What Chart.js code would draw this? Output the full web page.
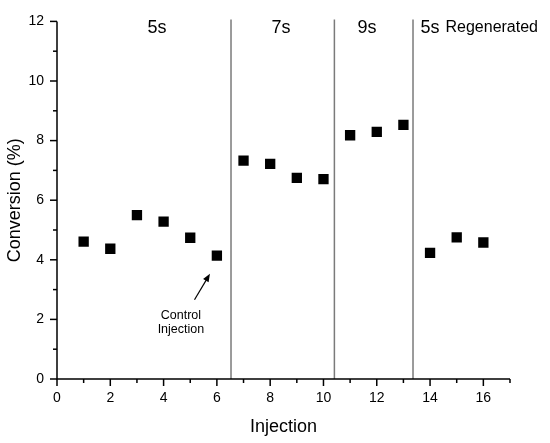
<!DOCTYPE html>
<html>
<head>
<meta charset="utf-8">
<script src="https://cdn.jsdelivr.net/npm/chart.js@4"></script>
<style>
  body { margin: 0; background: #fff; }
  #wrap { width: 550px; height: 443px; }
</style>
</head>
<body>
<div id="wrap"><canvas id="convChart" width="550" height="443"></canvas></div>
<script>
// data
var injection = [1, 2, 3, 4, 5, 6, 7, 8, 9, 10, 11, 12, 13, 14, 15, 16];
var conversion = [4.61, 4.37, 5.50, 5.28, 4.74, 4.14, 7.33, 7.22, 6.75, 6.71, 8.18, 8.29, 8.53, 4.23, 4.75, 4.58];
var dividers = [6.53, 10.41, 13.36];
var phaseLabels = ['5s', '7s', '9s', '5s'];
var xTickLabels = ['0', '2', '4', '6', '8', '10', '12', '14', '16'];
var yTickLabels = ['0', '2', '4', '6', '8', '10', '12'];

var FONT = "'Liberation Sans', Arial, sans-serif";

var points = injection.map(function (x, i) { return { x: x, y: conversion[i] }; });

// axis lines, major/minor ticks, dividers and text notes
var decorPlugin = {
  id: 'decor',
  beforeDatasetsDraw: function (chart) {
    var ctx = chart.ctx, xs = chart.scales.x, ys = chart.scales.y, area = chart.chartArea;
    ctx.save();
    ctx.strokeStyle = '#7a7a7a';
    ctx.lineWidth = 1.5;
    dividers.forEach(function (d) {
      var px = xs.getPixelForValue(d);
      ctx.beginPath();
      ctx.moveTo(px, area.top - 2);
      ctx.lineTo(px, area.bottom);
      ctx.stroke();
    });
    ctx.restore();
  },
  afterDraw: function (chart) {
    var ctx = chart.ctx, xs = chart.scales.x, ys = chart.scales.y, area = chart.chartArea;
    ctx.save();
    ctx.strokeStyle = '#000';
    ctx.lineWidth = 1.5;
    // axis lines
    ctx.beginPath();
    ctx.moveTo(area.left, ys.getPixelForValue(12));
    ctx.lineTo(area.left, area.bottom);
    ctx.lineTo(xs.getPixelForValue(17), area.bottom);
    ctx.stroke();
    // x ticks
    for (var v = 0; v <= 17; v++) {
      var px = xs.getPixelForValue(v);
      var len = v % 2 === 0 ? 7 : 4;
      ctx.beginPath();
      ctx.moveTo(px, area.bottom);
      ctx.lineTo(px, area.bottom + len);
      ctx.stroke();
    }
    // y ticks
    for (var w = 0; w <= 12; w++) {
      var py = ys.getPixelForValue(w);
      var l2 = w % 2 === 0 ? 7 : 4;
      ctx.beginPath();
      ctx.moveTo(area.left, py);
      ctx.lineTo(area.left - l2, py);
      ctx.stroke();
    }

    // phase labels
    ctx.fillStyle = '#000';
    ctx.textBaseline = 'middle';
    ctx.font = '18px ' + FONT;
    ctx.textAlign = 'center';
    var ly = ys.getPixelForValue(11.78);
    ctx.fillText(phaseLabels[0], xs.getPixelForValue(3.75), ly);
    ctx.fillText(phaseLabels[1], xs.getPixelForValue(8.41), ly);
    ctx.fillText(phaseLabels[2], xs.getPixelForValue(11.63), ly);
    ctx.textAlign = 'left';
    var x4 = xs.getPixelForValue(13.64);
    ctx.fillText(phaseLabels[3], x4, ly);
    var w4 = ctx.measureText(phaseLabels[3]).width;
    ctx.font = '16px ' + FONT;
    ctx.fillText('Regenerated', x4 + w4 + 6, ly);

    // control injection note
    ctx.font = '12.5px ' + FONT;
    ctx.textAlign = 'center';
    var cx = xs.getPixelForValue(4.65);
    ctx.fillText('Control', cx, ys.getPixelForValue(2.12));
    ctx.fillText('Injection', cx, ys.getPixelForValue(1.65));

    // arrow
    var ax0 = xs.getPixelForValue(5.16), ay0 = ys.getPixelForValue(2.66);
    var ax1 = xs.getPixelForValue(5.74), ay1 = ys.getPixelForValue(3.53);
    var ang = Math.atan2(ay1 - ay0, ax1 - ax0);
    ctx.lineWidth = 1.2;
    ctx.beginPath();
    ctx.moveTo(ax0, ay0);
    ctx.lineTo(ax1 - 5 * Math.cos(ang), ay1 - 5 * Math.sin(ang));
    ctx.stroke();
    ctx.beginPath();
    ctx.moveTo(ax1, ay1);
    ctx.lineTo(ax1 - 8 * Math.cos(ang) + 3.2 * Math.sin(ang), ay1 - 8 * Math.sin(ang) - 3.2 * Math.cos(ang));
    ctx.lineTo(ax1 - 8 * Math.cos(ang) - 3.2 * Math.sin(ang), ay1 - 8 * Math.sin(ang) + 3.2 * Math.cos(ang));
    ctx.closePath();
    ctx.fill();
    ctx.restore();
  }
};

var ctx = document.getElementById('convChart').getContext('2d');
var convChart = new Chart(ctx, {
  type: 'scatter',
  data: {
    datasets: [{
      label: 'Conversion',
      data: points,
      backgroundColor: '#000',
      borderColor: '#000',
      borderWidth: 0,
      pointStyle: 'rect',
      pointRadius: 7.3,
      pointHoverRadius: 7.3
    }]
  },
  options: {
    responsive: false,
    animation: false,
    layout: { padding: { top: 15, right: 40, left: 0, bottom: 0 } },
    plugins: { legend: { display: false }, tooltip: { enabled: false } },
    scales: {
      x: {
        type: 'linear',
        min: 0,
        max: 17,
        afterFit: function (s) { s.height = 64; },
        grid: { display: false, drawTicks: false },
        border: { display: false },
        ticks: {
          stepSize: 1,
          padding: 11,
          maxRotation: 0,
          autoSkip: false,
          color: '#000',
          font: { family: FONT, size: 14 },
          callback: function (v) { return v % 2 === 0 ? xTickLabels[v / 2] : ''; }
        },
        title: {
          display: true,
          text: 'Injection',
          color: '#000',
          font: { family: FONT, size: 18 },
          padding: { top: 0, bottom: 5 }
        }
      },
      y: {
        type: 'linear',
        min: 0,
        max: 12,
        afterFit: function (s) { s.width = 57; },
        grid: { display: false, drawTicks: false },
        border: { display: false },
        ticks: {
          stepSize: 1,
          padding: 13,
          autoSkip: false,
          color: '#000',
          font: { family: FONT, size: 14 },
          callback: function (v) { return v % 2 === 0 ? yTickLabels[v / 2] : ''; }
        },
        title: {
          display: true,
          text: 'Conversion (%)',
          color: '#000',
          font: { family: FONT, size: 18 },
          padding: { top: 4, bottom: 0 }
        }
      }
    }
  },
  plugins: [decorPlugin]
});
</script>
</body>
</html>
